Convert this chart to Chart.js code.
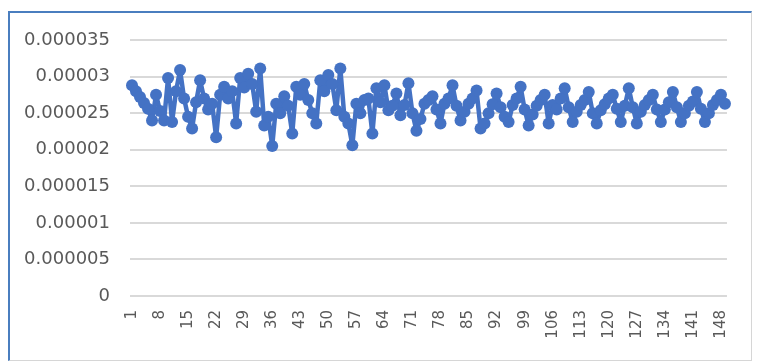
<!DOCTYPE html>
<html>
<head>
<meta charset="utf-8">
<script src="https://cdn.jsdelivr.net/npm/chart.js@4/dist/chart.umd.min.js"></script>
<style>
  html, body { margin: 0; padding: 0; background: #ffffff; }
  body { width: 757px; height: 363px; position: relative; overflow: hidden; }
  #frame {
    position: absolute; left: 8px; top: 11px; width: 744px; height: 350px;
    border-left: 2px solid #4a7ebf; border-top: 2px solid #4a7ebf;
    border-right: 1px solid #d6d6d6; border-bottom: 1px solid #d6d6d6;
    box-sizing: border-box; pointer-events: none;
  }
  #wrap { position: absolute; left: 0; top: 0; width: 757px; height: 363px; }
</style>
</head>
<body>
<div id="wrap"><canvas id="c" width="757" height="363"></canvas></div>
<div id="frame"></div>
<script>
// Sample index along the horizontal axis
const categories = [
  1,2,3,4,5,6,7,8,9,10,11,12,13,14,15,16,17,18,19,20,
  21,22,23,24,25,26,27,28,29,30,31,32,33,34,35,36,37,38,39,40,
  41,42,43,44,45,46,47,48,49,50,51,52,53,54,55,56,57,58,59,60,
  61,62,63,64,65,66,67,68,69,70,71,72,73,74,75,76,77,78,79,80,
  81,82,83,84,85,86,87,88,89,90,91,92,93,94,95,96,97,98,99,100,
  101,102,103,104,105,106,107,108,109,110,111,112,113,114,115,116,117,118,119,120,
  121,122,123,124,125,126,127,128,129,130,131,132,133,134,135,136,137,138,139,140,
  141,142,143,144,145,146,147,148,149
];

// Measured values per sample
const values = [
  2.88e-5, 2.80e-5, 2.72e-5, 2.64e-5, 2.56e-5, 2.40e-5, 2.75e-5, 2.53e-5, 2.40e-5, 2.98e-5,
  2.38e-5, 2.80e-5, 3.09e-5, 2.70e-5, 2.45e-5, 2.29e-5, 2.65e-5, 2.95e-5, 2.70e-5, 2.55e-5,
  2.63e-5, 2.17e-5, 2.75e-5, 2.86e-5, 2.70e-5, 2.80e-5, 2.36e-5, 2.98e-5, 2.85e-5, 3.04e-5,
  2.90e-5, 2.52e-5, 3.11e-5, 2.33e-5, 2.45e-5, 2.05e-5, 2.63e-5, 2.50e-5, 2.73e-5, 2.60e-5,
  2.22e-5, 2.86e-5, 2.75e-5, 2.90e-5, 2.68e-5, 2.50e-5, 2.36e-5, 2.95e-5, 2.80e-5, 3.02e-5,
  2.90e-5, 2.54e-5, 3.11e-5, 2.45e-5, 2.36e-5, 2.06e-5, 2.63e-5, 2.50e-5, 2.68e-5, 2.70e-5,
  2.22e-5, 2.84e-5, 2.65e-5, 2.88e-5, 2.54e-5, 2.60e-5, 2.77e-5, 2.47e-5, 2.61e-5, 2.91e-5,
  2.50e-5, 2.26e-5, 2.42e-5, 2.63e-5, 2.68e-5, 2.73e-5, 2.55e-5, 2.36e-5, 2.63e-5, 2.70e-5,
  2.88e-5, 2.60e-5, 2.40e-5, 2.52e-5, 2.63e-5, 2.70e-5, 2.81e-5, 2.29e-5, 2.36e-5, 2.50e-5,
  2.62e-5, 2.77e-5, 2.58e-5, 2.45e-5, 2.38e-5, 2.61e-5, 2.70e-5, 2.86e-5, 2.55e-5, 2.33e-5,
  2.48e-5, 2.60e-5, 2.68e-5, 2.75e-5, 2.36e-5, 2.61e-5, 2.55e-5, 2.70e-5, 2.84e-5, 2.58e-5,
  2.38e-5, 2.52e-5, 2.61e-5, 2.68e-5, 2.79e-5, 2.50e-5, 2.36e-5, 2.54e-5, 2.62e-5, 2.70e-5,
  2.75e-5, 2.56e-5, 2.38e-5, 2.60e-5, 2.84e-5, 2.58e-5, 2.36e-5, 2.52e-5, 2.61e-5, 2.68e-5,
  2.75e-5, 2.55e-5, 2.38e-5, 2.55e-5, 2.65e-5, 2.79e-5, 2.58e-5, 2.38e-5, 2.50e-5, 2.60e-5,
  2.66e-5, 2.79e-5, 2.56e-5, 2.38e-5, 2.50e-5, 2.61e-5, 2.68e-5, 2.75e-5, 2.63e-5
];

// Category labels printed under the axis
const xTickLabels = ['1','8','15','22','29','36','43','50','57','64','71','78','85','92','99','106','113','120','127','134','141','148'];

// Value axis labels, bottom to top
const yTickLabels = ['0','0.000005','0.00001','0.000015','0.00002','0.000025','0.00003','0.000035'];
const yTickValues = [0, 0.000005, 0.00001, 0.000015, 0.00002, 0.000025, 0.00003, 0.000035];

const seriesColor = '#4472c4';
const labelColor = '#595959';

new Chart(document.getElementById('c'), {
  type: 'line',
  data: {
    labels: categories.map(String),
    datasets: [{
      data: values,
      borderColor: seriesColor,
      backgroundColor: seriesColor,
      borderWidth: 4.5,
      borderJoinStyle: 'round',
      borderCapStyle: 'round',
      tension: 0,
      pointRadius: 6,
      pointBorderWidth: 0,
      pointBackgroundColor: seriesColor,
      fill: false
    }]
  },
  options: {
    responsive: false,
    animation: false,
    events: [],
    layout: { padding: { left: 0, right: 15, top: 40, bottom: 0 } },
    plugins: { legend: { display: false }, tooltip: { enabled: false } },
    scales: {
      x: {
        type: 'category',
        offset: true,
        grid: { display: false, drawTicks: false },
        border: { display: false },
        afterCalculateLabelRotation: (s) => { s.labelRotation = 90; },
        afterFit: (s) => { s.height = 67; },
        ticks: {
          autoSkip: false,
          maxRotation: 90,
          minRotation: 90,
          padding: 14,
          color: labelColor,
          font: { family: 'DejaVu Sans', size: 15 },
          callback: function (v) {
            const lab = this.getLabelForValue(v);
            return xTickLabels.includes(lab) ? lab : '';
          }
        }
      },
      y: {
        min: 0,
        max: 0.000035,
        afterFit: (s) => { s.width = 130; },
        afterBuildTicks: (s) => { s.ticks = yTickValues.map(v => ({ value: v })); },
        grid: { color: '#d9d9d9', lineWidth: 2, drawTicks: false },
        border: { display: false },
        ticks: {
          padding: 20,
          color: labelColor,
          font: { family: 'DejaVu Sans', size: 18 },
          callback: (v) => yTickLabels[yTickValues.findIndex(t => Math.abs(t - v) < 1e-12)]
        }
      }
    }
  }
});
</script>
</body>
</html>
